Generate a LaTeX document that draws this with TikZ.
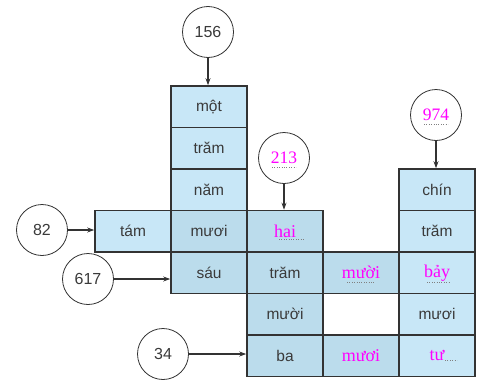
\documentclass[tikz,border=0pt]{standalone}
\usepackage{fontspec}
\setmainfont{Liberation Serif}
\setsansfont{Liberation Sans}
\usetikzlibrary{arrows.meta}
\definecolor{cellblue}{HTML}{C8E7F7}
\definecolor{cellshade}{HTML}{BBDCEC}
\definecolor{linegray}{HTML}{333333}
\definecolor{txtgray}{HTML}{3A3A3A}
\definecolor{mag}{HTML}{FF00FF}
\tikzset{
  cell/.style={draw=linegray, line width=1.6pt, fill=cellblue, minimum width=76pt, minimum height=41.5pt, inner sep=0pt, font=\sffamily\fontsize{15.5}{17}\selectfont, text=txtgray},
  shade/.style={fill=cellshade},
  blank/.style={fill=white},
  num/.style={circle, draw=linegray, line width=0.8pt, minimum size=51pt, inner sep=0pt, fill=white, font=\sffamily\fontsize{16}{17}\selectfont, text=txtgray},
  magnum/.style={num, font=\fontsize{17.5}{18}\selectfont, text=mag},
  magtxt/.style={font=\fontsize{18}{19}\selectfont, text=mag},
  arr/.style={draw=linegray, line width=1.1pt, -{Stealth[length=7pt,width=5pt]}},
  dots/.style={draw=gray, line width=0.6pt, dash pattern=on 0.8pt off 1.6pt}
}
\begin{document}
\begin{tikzpicture}[x=1pt,y=-1pt]
\useasboundingbox (0,0) rectangle (489,388);
% column B
\node[cell] (b1) at (209,106.75) {một};
\node[cell] (b2) at (209,148.25) {trăm};
\node[cell] (b3) at (209,189.75) {năm};
\node[cell] (a4) at (133,231.25) {tám};
\node[cell,shade] (b4) at (209,231.25) {mươi};
\node[cell,shade] (b5) at (209,272.75) {sáu};
% column C
\node[cell,shade,magtxt] (c4) at (285,231.25) {hai};
\node[cell,shade] (c5) at (285,272.75) {trăm};
\node[cell,shade] (c6) at (285,314.25) {mười};
\node[cell,shade] (c7) at (285,355.75) {ba};
% column D
\node[cell,shade,magtxt] (d5) at (361,272.75) {mười};
\node[cell,blank] (d6) at (361,314.25) {};
\node[cell,shade,magtxt] (d7) at (361,355.75) {mươi};
% column E
\node[cell] (e3) at (437,189.75) {chín};
\node[cell] (e4) at (437,231.25) {trăm};
\node[cell,magtxt] (e5) at (437,272.75) {bảy};
\node[cell] (e6) at (437,314.25) {mươi};
\node[cell,magtxt] (e7) at (437,355.75) {tư};
% dotted underlines
\draw[dots] (c4.center) ++(-6,8) -- ++(26,0);
\draw[dots] (d5.center) ++(-14,10) -- ++(28,0);
\draw[dots] (e5.center) ++(-10,10) -- ++(22,0);
\draw[dots] (e7.center) ++(8,5) -- ++(12,0);
% circles
\node[num] (n156) at (208,32) {156};
\node[magnum] (n213) at (284,158) {213};
\node[magnum] (n974) at (436,115) {974};
\node[num] (n82) at (42,230) {82};
\node[num] (n617) at (88,279) {617};
\node[num] (n34) at (163,354) {34};
\draw[dots] (n213.center) ++(-12,9) -- ++(24,0);
\draw[dots] (n974.center) ++(-12,9) -- ++(24,0);
% arrows
\draw[arr] (n156) -- (n156 |- b1.north);
\draw[arr] (n213) -- (n213 |- c4.north);
\draw[arr] (n974) -- (n974 |- e3.north);
\draw[arr] (n82) -- (a4.west |- n82);
\draw[arr] (n617) -- (b5.west |- n617);
\draw[arr] (n34) -- (c7.west |- n34);
\end{tikzpicture}
\end{document}
